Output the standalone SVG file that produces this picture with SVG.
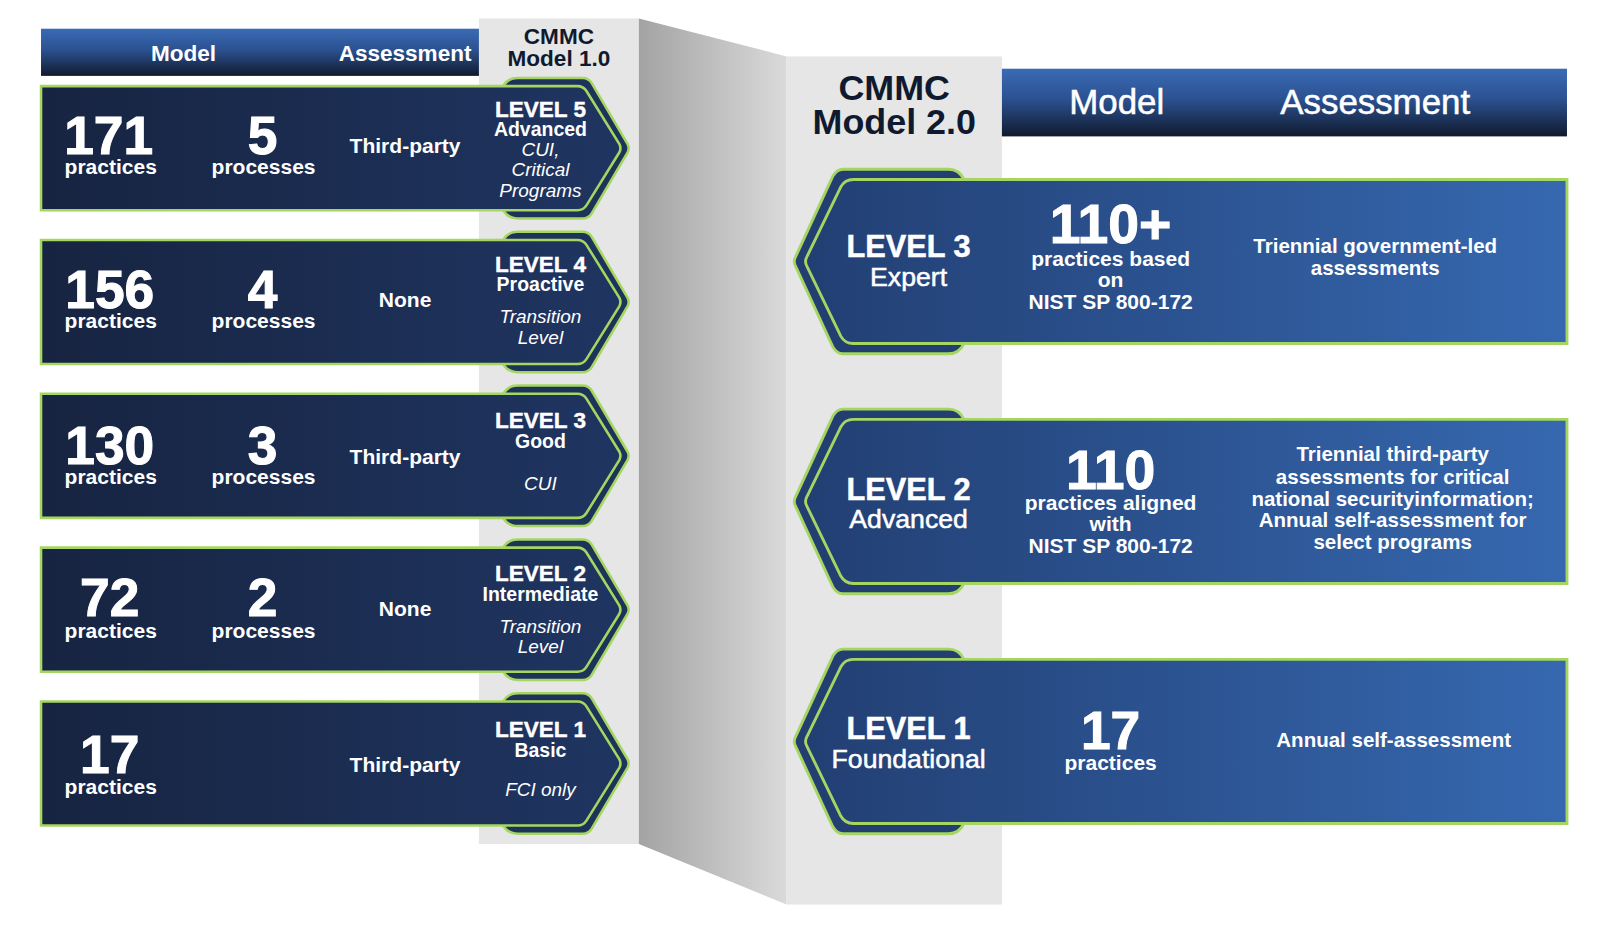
<svg xmlns="http://www.w3.org/2000/svg" xmlns:xlink="http://www.w3.org/1999/xlink" width="1608" height="925" viewBox="0 0 1608 925">
<defs>
<linearGradient id="hdr" x1="0" y1="0" x2="0" y2="1">
<stop offset="0" stop-color="#3a6bb6"/><stop offset="0.45" stop-color="#2b5190"/><stop offset="1" stop-color="#111a2d"/>
</linearGradient>
<linearGradient id="wall" x1="0" y1="0" x2="1" y2="0">
<stop offset="0" stop-color="#a3a3a3"/><stop offset="1" stop-color="#d9dad9"/>
</linearGradient>
<linearGradient id="lfill" x1="0" y1="0" x2="1" y2="0">
<stop offset="0" stop-color="#172441"/><stop offset="1" stop-color="#1f3561"/>
</linearGradient>
<linearGradient id="rfill" x1="0" y1="0" x2="1" y2="0">
<stop offset="0" stop-color="#223f73"/><stop offset="1" stop-color="#3668b0"/>
</linearGradient>
<path id="lfront" d="M40,0 H563 Q569,0 572,5 L604,56.5 Q606,60.5 604,64.5 L572,116 Q569,121 563,121 H40 Z"/>
<path id="lback" d="M488,10 Q490,-8 505,-8 H568 Q574,-8 577,-3 L612,56.5 Q614,60.5 612,64.5 L577,124 Q574,129 568,129 H505 Q490,129 488,111 Z"/>
<path id="rfront" d="M1528,0 H832 Q824,0 820,7 L787,75 Q784,80 787,85 L820,153 Q824,160 832,160 H1528 Z"/>
<path id="rback" d="M822,-10 H925 Q935,-10 940,0 L940,160 Q935,170 925,170 H822 Q816,170 812,163 L776,85 Q773,80 776,75 L812,-3 Q816,-10 822,-10 Z"/>
</defs>
<style>
text{font-family:"Liberation Sans",Arial,sans-serif;fill:#fff;text-anchor:middle}
.b{font-weight:700}
.big{font-weight:700;stroke:#fff;stroke-width:1}
.it{font-style:italic}
.med{stroke:#fff;stroke-width:0.5}
.dk{fill:#101a2f}
.lf{fill:url(#lfill);stroke:#a5d662;stroke-width:2.5}
.lb{fill:#1e3359;stroke:#a5d662;stroke-width:2.5}
.rf{fill:url(#rfill);stroke:#a5d662;stroke-width:2.8}
.rb{fill:#233f72;stroke:#a5d662;stroke-width:2.8}
</style>
<rect x="0" y="0" width="1608" height="925" fill="#fff"/>
<g transform="scale(1.02551)">
<g id="panel-v1">
<rect x="40" y="28" width="430" height="46" fill="url(#hdr)"/>
<text class="b" x="179" y="59" font-size="22">Model</text>
<text class="b" x="395" y="59" font-size="22">Assessment</text>
<rect x="467" y="18" width="156" height="805" fill="#e5e6e5"/>
<text class="b dk" x="545" y="43" font-size="22">CMMC</text>
<text class="b dk" x="545" y="64" font-size="22">Model 1.0</text>
</g>
<g id="wall-g"><polygon points="623,18 767,55 767,882 623,823" fill="url(#wall)"/></g>
<g id="panel-v2">
<rect x="767" y="55" width="210" height="827" fill="#e5e6e5"/>
<text class="b dk" x="872" y="98" font-size="35">CMMC</text>
<text class="b dk" x="872" y="131" font-size="35">Model 2.0</text>
<rect x="977" y="67" width="551" height="66" fill="url(#hdr)"/>
<text class="med" x="1089" y="111" font-size="34">Model</text>
<text class="med" x="1341" y="111" font-size="34">Assessment</text>
</g>
<g id="v1-level5" transform="translate(0,84)">
<use xlink:href="#lback" class="lb"/><use xlink:href="#lfront" class="lf"/>
<text class="big" x="106" y="66" font-size="52">171</text>
<text class="b" x="108" y="86" font-size="20.5">practices</text>
<text class="big" x="256" y="66" font-size="52">5</text>
<text class="b" x="257" y="86" font-size="20.5">processes</text>
<text class="b" x="395" y="65" font-size="20.5">Third-party</text>
<text class="big" x="527" y="30" font-size="22" style="stroke-width:0.4">LEVEL 5</text>
<text class="b" x="527" y="49" font-size="19">Advanced</text>
<text class="it" x="527" y="68" font-size="18.5">CUI,</text>
<text class="it" x="527" y="88" font-size="18.5">Critical</text>
<text class="it" x="527" y="108" font-size="18.5">Programs</text>
</g>
<g id="v1-level4" transform="translate(0,234)">
<use xlink:href="#lback" class="lb"/><use xlink:href="#lfront" class="lf"/>
<text class="big" x="107" y="66" font-size="52">156</text>
<text class="b" x="108" y="86" font-size="20.5">practices</text>
<text class="big" x="256" y="66" font-size="52">4</text>
<text class="b" x="257" y="86" font-size="20.5">processes</text>
<text class="b" x="395" y="65" font-size="20.5">None</text>
<text class="big" x="527" y="31" font-size="22" style="stroke-width:0.4">LEVEL 4</text>
<text class="b" x="527" y="50" font-size="19">Proactive</text>
<text class="it" x="527" y="81" font-size="18.5">Transition</text>
<text class="it" x="527" y="101" font-size="18.5">Level</text>
</g>
<g id="v1-level3" transform="translate(0,384)">
<use xlink:href="#lback" class="lb"/><use xlink:href="#lfront" class="lf"/>
<text class="big" x="107" y="68" font-size="52">130</text>
<text class="b" x="108" y="88" font-size="20.5">practices</text>
<text class="big" x="256" y="68" font-size="52">3</text>
<text class="b" x="257" y="88" font-size="20.5">processes</text>
<text class="b" x="395" y="68" font-size="20.5">Third-party</text>
<text class="big" x="527" y="33" font-size="22" style="stroke-width:0.4">LEVEL 3</text>
<text class="b" x="527" y="53" font-size="19">Good</text>
<text class="it" x="527" y="94" font-size="18.5">CUI</text>
</g>
<g id="v1-level2" transform="translate(0,534)">
<use xlink:href="#lback" class="lb"/><use xlink:href="#lfront" class="lf"/>
<text class="big" x="107" y="67" font-size="52">72</text>
<text class="b" x="108" y="88" font-size="20.5">practices</text>
<text class="big" x="256" y="67" font-size="52">2</text>
<text class="b" x="257" y="88" font-size="20.5">processes</text>
<text class="b" x="395" y="67" font-size="20.5">None</text>
<text class="big" x="527" y="33" font-size="22" style="stroke-width:0.4">LEVEL 2</text>
<text class="b" x="527" y="52" font-size="19">Intermediate</text>
<text class="it" x="527" y="83" font-size="18.5">Transition</text>
<text class="it" x="527" y="103" font-size="18.5">Level</text>
</g>
<g id="v1-level1" transform="translate(0,684)">
<use xlink:href="#lback" class="lb"/><use xlink:href="#lfront" class="lf"/>
<text class="big" x="107" y="70" font-size="52">17</text>
<text class="b" x="108" y="90" font-size="20.5">practices</text>
<text class="b" x="395" y="69" font-size="20.5">Third-party</text>
<text class="big" x="527" y="35" font-size="22" style="stroke-width:0.4">LEVEL 1</text>
<text class="b" x="527" y="54" font-size="19">Basic</text>
<text class="it" x="527" y="92" font-size="18.5">FCI only</text>
</g>
<g id="v2-level3" transform="translate(0,175)">
<use xlink:href="#rback" class="rb"/><use xlink:href="#rfront" class="rf"/>
<text class="big" x="886" y="76" font-size="30" style="stroke-width:0.5">LEVEL 3</text>
<text class="med" x="886" y="104" font-size="26">Expert</text>
<text class="big" x="1083" y="62" font-size="54">110+</text>
<text class="b" x="1083" y="84" font-size="20.5">practices based</text>
<text class="b" x="1083" y="105" font-size="20.5">on</text>
<text class="b" x="1083" y="126" font-size="20.5">NIST SP 800-172</text>
<text class="b" x="1341" y="72" font-size="20">Triennial government-led</text>
<text class="b" x="1341" y="93" font-size="20">assessments</text>
</g>
<g id="v2-level2" transform="translate(0,409)">
<use xlink:href="#rback" class="rb"/><use xlink:href="#rfront" class="rf"/>
<text class="big" x="886" y="79" font-size="30" style="stroke-width:0.5">LEVEL 2</text>
<text class="med" x="886" y="106" font-size="26">Advanced</text>
<text class="big" x="1083" y="68" font-size="54">110</text>
<text class="b" x="1083" y="88" font-size="20.5">practices aligned</text>
<text class="b" x="1083" y="109" font-size="20.5">with</text>
<text class="b" x="1083" y="130" font-size="20.5">NIST SP 800-172</text>
<text class="b" x="1358" y="41" font-size="20">Triennial third-party</text>
<text class="b" x="1358" y="63" font-size="20">assessments for critical</text>
<text class="b" x="1358" y="84" font-size="20">national securityinformation;</text>
<text class="b" x="1358" y="105" font-size="20">Annual self-assessment for</text>
<text class="b" x="1358" y="126" font-size="20">select programs</text>
</g>
<g id="v2-level1" transform="translate(0,643)">
<use xlink:href="#rback" class="rb"/><use xlink:href="#rfront" class="rf"/>
<text class="big" x="886" y="78" font-size="30" style="stroke-width:0.5">LEVEL 1</text>
<text class="med" x="886" y="106" font-size="26">Foundational</text>
<text class="big" x="1083" y="87" font-size="52">17</text>
<text class="b" x="1083" y="108" font-size="20.5">practices</text>
<text class="b" x="1359" y="85" font-size="20">Annual self-assessment</text>
</g>
<g id="connectors"/>
</g>
</svg>
